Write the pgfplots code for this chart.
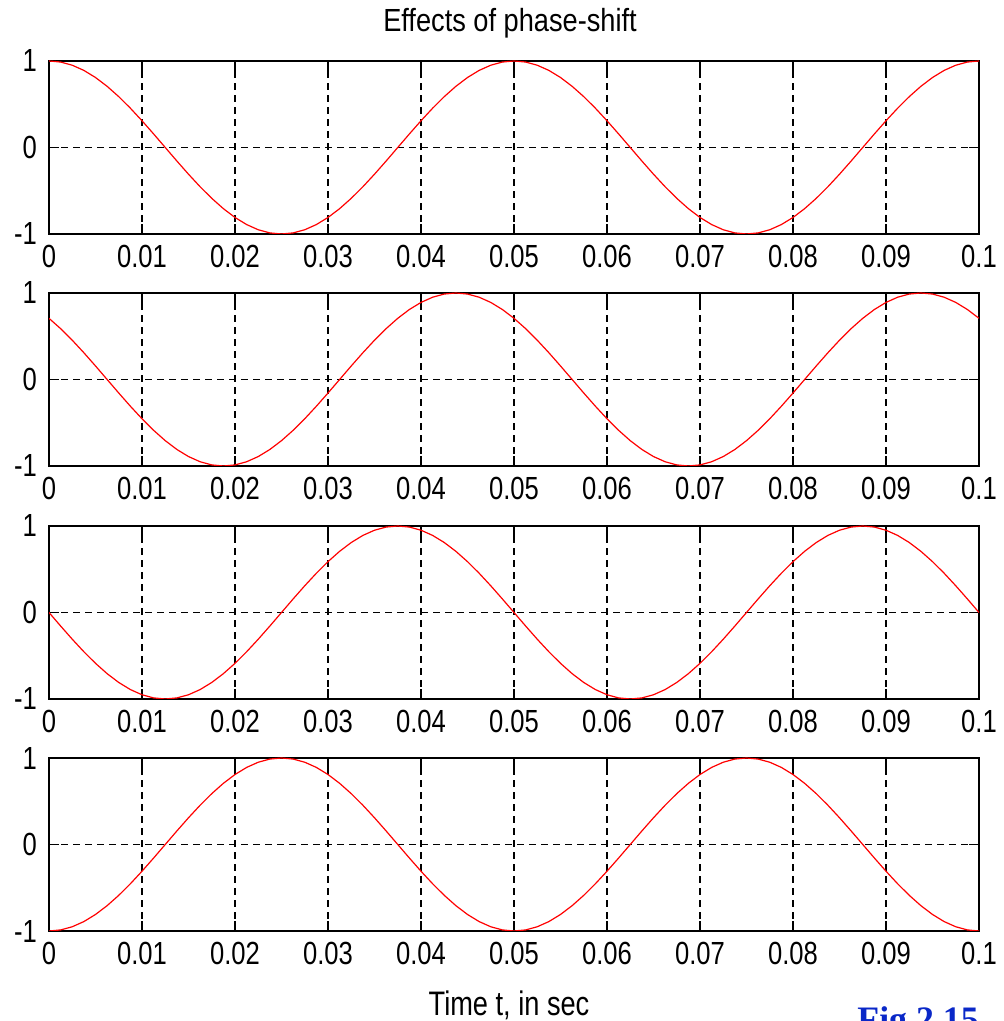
\documentclass[border=0pt]{standalone}
\usepackage{pgfplots}
\pgfplotsset{compat=1.18}
\usepackage{pgfplotstable}
\usepackage{fontspec}
\setmainfont{Liberation Sans}
\newfontfamily\tickfont[FakeStretch=0.80]{Liberation Sans}
\newfontfamily\titlefont[FakeStretch=0.85]{Liberation Sans}
\newfontfamily\figfont{Liberation Serif}
\definecolor{figblue}{RGB}{10,40,200}

\pgfplotstableread{
t a b c d
0 1 0.70711 0 -1
0.00125 0.98769 0.58779 -0.15643 -0.98769
0.0025 0.95106 0.45399 -0.30902 -0.95106
0.00375 0.89101 0.30902 -0.45399 -0.89101
0.005 0.80902 0.15643 -0.58779 -0.80902
0.00625 0.70711 0 -0.70711 -0.70711
0.0075 0.58779 -0.15643 -0.80902 -0.58779
0.00875 0.45399 -0.30902 -0.89101 -0.45399
0.01 0.30902 -0.45399 -0.95106 -0.30902
0.01125 0.15643 -0.58779 -0.98769 -0.15643
0.0125 0 -0.70711 -1 0
0.01375 -0.15643 -0.80902 -0.98769 0.15643
0.015 -0.30902 -0.89101 -0.95106 0.30902
0.01625 -0.45399 -0.95106 -0.89101 0.45399
0.0175 -0.58779 -0.98769 -0.80902 0.58779
0.01875 -0.70711 -1 -0.70711 0.70711
0.02 -0.80902 -0.98769 -0.58779 0.80902
0.02125 -0.89101 -0.95106 -0.45399 0.89101
0.0225 -0.95106 -0.89101 -0.30902 0.95106
0.02375 -0.98769 -0.80902 -0.15643 0.98769
0.025 -1 -0.70711 0 1
0.02625 -0.98769 -0.58779 0.15643 0.98769
0.0275 -0.95106 -0.45399 0.30902 0.95106
0.02875 -0.89101 -0.30902 0.45399 0.89101
0.03 -0.80902 -0.15643 0.58779 0.80902
0.03125 -0.70711 0 0.70711 0.70711
0.0325 -0.58779 0.15643 0.80902 0.58779
0.03375 -0.45399 0.30902 0.89101 0.45399
0.035 -0.30902 0.45399 0.95106 0.30902
0.03625 -0.15643 0.58779 0.98769 0.15643
0.0375 0 0.70711 1 0
0.03875 0.15643 0.80902 0.98769 -0.15643
0.04 0.30902 0.89101 0.95106 -0.30902
0.04125 0.45399 0.95106 0.89101 -0.45399
0.0425 0.58779 0.98769 0.80902 -0.58779
0.04375 0.70711 1 0.70711 -0.70711
0.045 0.80902 0.98769 0.58779 -0.80902
0.04625 0.89101 0.95106 0.45399 -0.89101
0.0475 0.95106 0.89101 0.30902 -0.95106
0.04875 0.98769 0.80902 0.15643 -0.98769
0.05 1 0.70711 0 -1
0.05125 0.98769 0.58779 -0.15643 -0.98769
0.0525 0.95106 0.45399 -0.30902 -0.95106
0.05375 0.89101 0.30902 -0.45399 -0.89101
0.055 0.80902 0.15643 -0.58779 -0.80902
0.05625 0.70711 0 -0.70711 -0.70711
0.0575 0.58779 -0.15643 -0.80902 -0.58779
0.05875 0.45399 -0.30902 -0.89101 -0.45399
0.06 0.30902 -0.45399 -0.95106 -0.30902
0.06125 0.15643 -0.58779 -0.98769 -0.15643
0.0625 0 -0.70711 -1 0
0.06375 -0.15643 -0.80902 -0.98769 0.15643
0.065 -0.30902 -0.89101 -0.95106 0.30902
0.06625 -0.45399 -0.95106 -0.89101 0.45399
0.0675 -0.58779 -0.98769 -0.80902 0.58779
0.06875 -0.70711 -1 -0.70711 0.70711
0.07 -0.80902 -0.98769 -0.58779 0.80902
0.07125 -0.89101 -0.95106 -0.45399 0.89101
0.0725 -0.95106 -0.89101 -0.30902 0.95106
0.07375 -0.98769 -0.80902 -0.15643 0.98769
0.075 -1 -0.70711 0 1
0.07625 -0.98769 -0.58779 0.15643 0.98769
0.0775 -0.95106 -0.45399 0.30902 0.95106
0.07875 -0.89101 -0.30902 0.45399 0.89101
0.08 -0.80902 -0.15643 0.58779 0.80902
0.08125 -0.70711 0 0.70711 0.70711
0.0825 -0.58779 0.15643 0.80902 0.58779
0.08375 -0.45399 0.30902 0.89101 0.45399
0.085 -0.30902 0.45399 0.95106 0.30902
0.08625 -0.15643 0.58779 0.98769 0.15643
0.0875 0 0.70711 1 0
0.08875 0.15643 0.80902 0.98769 -0.15643
0.09 0.30902 0.89101 0.95106 -0.30902
0.09125 0.45399 0.95106 0.89101 -0.45399
0.0925 0.58779 0.98769 0.80902 -0.58779
0.09375 0.70711 1 0.70711 -0.70711
0.095 0.80902 0.98769 0.58779 -0.80902
0.09625 0.89101 0.95106 0.45399 -0.89101
0.0975 0.95106 0.89101 0.30902 -0.95106
0.09875 0.98769 0.80902 0.15643 -0.98769
0.1 1 0.70711 0 -1
}\wave

\pgfplotsset{
  myax/.style={
    scale only axis,
    width=465pt, height=86.5pt,
    anchor=north west,
    xmin=0, xmax=0.1, ymin=-1, ymax=1,
    xtick={0,0.01,0.02,0.03,0.04,0.05,0.06,0.07,0.08,0.09,0.1},
    xticklabels={0,0.01,0.02,0.03,0.04,0.05,0.06,0.07,0.08,0.09,0.1},
    ytick={-1,0,1},
    yticklabels={-1,0,1},
    tick align=inside,
    major tick length=5pt,
    tick style={black, line width=0.9pt},
    axis line style={black, line width=1pt},
    grid=major,
    major grid style={black, line width=0.9pt, dash pattern=on 3.5pt off 2.5pt},
    ticklabel style={font=\tickfont\fontsize{16}{18}\selectfont},
    xticklabel style={yshift=-2pt},
    yticklabel style={xshift=-2.5pt},
  },
  wav/.style={red, line width=0.6pt, mark=none},
}

\begin{document}
\begin{tikzpicture}
\begin{axis}[myax, at={(24.5pt,480pt)}]
\addplot[wav] table[x=t, y=a] {\wave};
\end{axis}
\begin{axis}[myax, at={(24.5pt,364pt)}]
\addplot[wav] table[x=t, y=b] {\wave};
\end{axis}
\begin{axis}[myax, at={(24.5pt,247.5pt)}]
\addplot[wav] table[x=t, y=c] {\wave};
\end{axis}
\begin{axis}[myax, at={(24.5pt,131.5pt)}]
\addplot[wav] table[x=t, y=d] {\wave};
\end{axis}
\node[anchor=base, inner sep=0pt, font=\titlefont\fontsize{16}{18}\selectfont] at (255pt,494.5pt) {Effects of phase-shift};
\node[anchor=base, inner sep=0pt, font=\tickfont\fontsize{17}{19}\selectfont] at (254.5pt,2.5pt) {Time t, in sec};
\node[anchor=base west, inner sep=0pt, text=figblue, font=\figfont\bfseries\fontsize{17.9}{20}\selectfont] at (428.5pt,-5.3pt) {Fig 2.15};
\pgfresetboundingbox
\useasboundingbox (0,0) rectangle (502pt,510.5pt);
\end{tikzpicture}
\end{document}
